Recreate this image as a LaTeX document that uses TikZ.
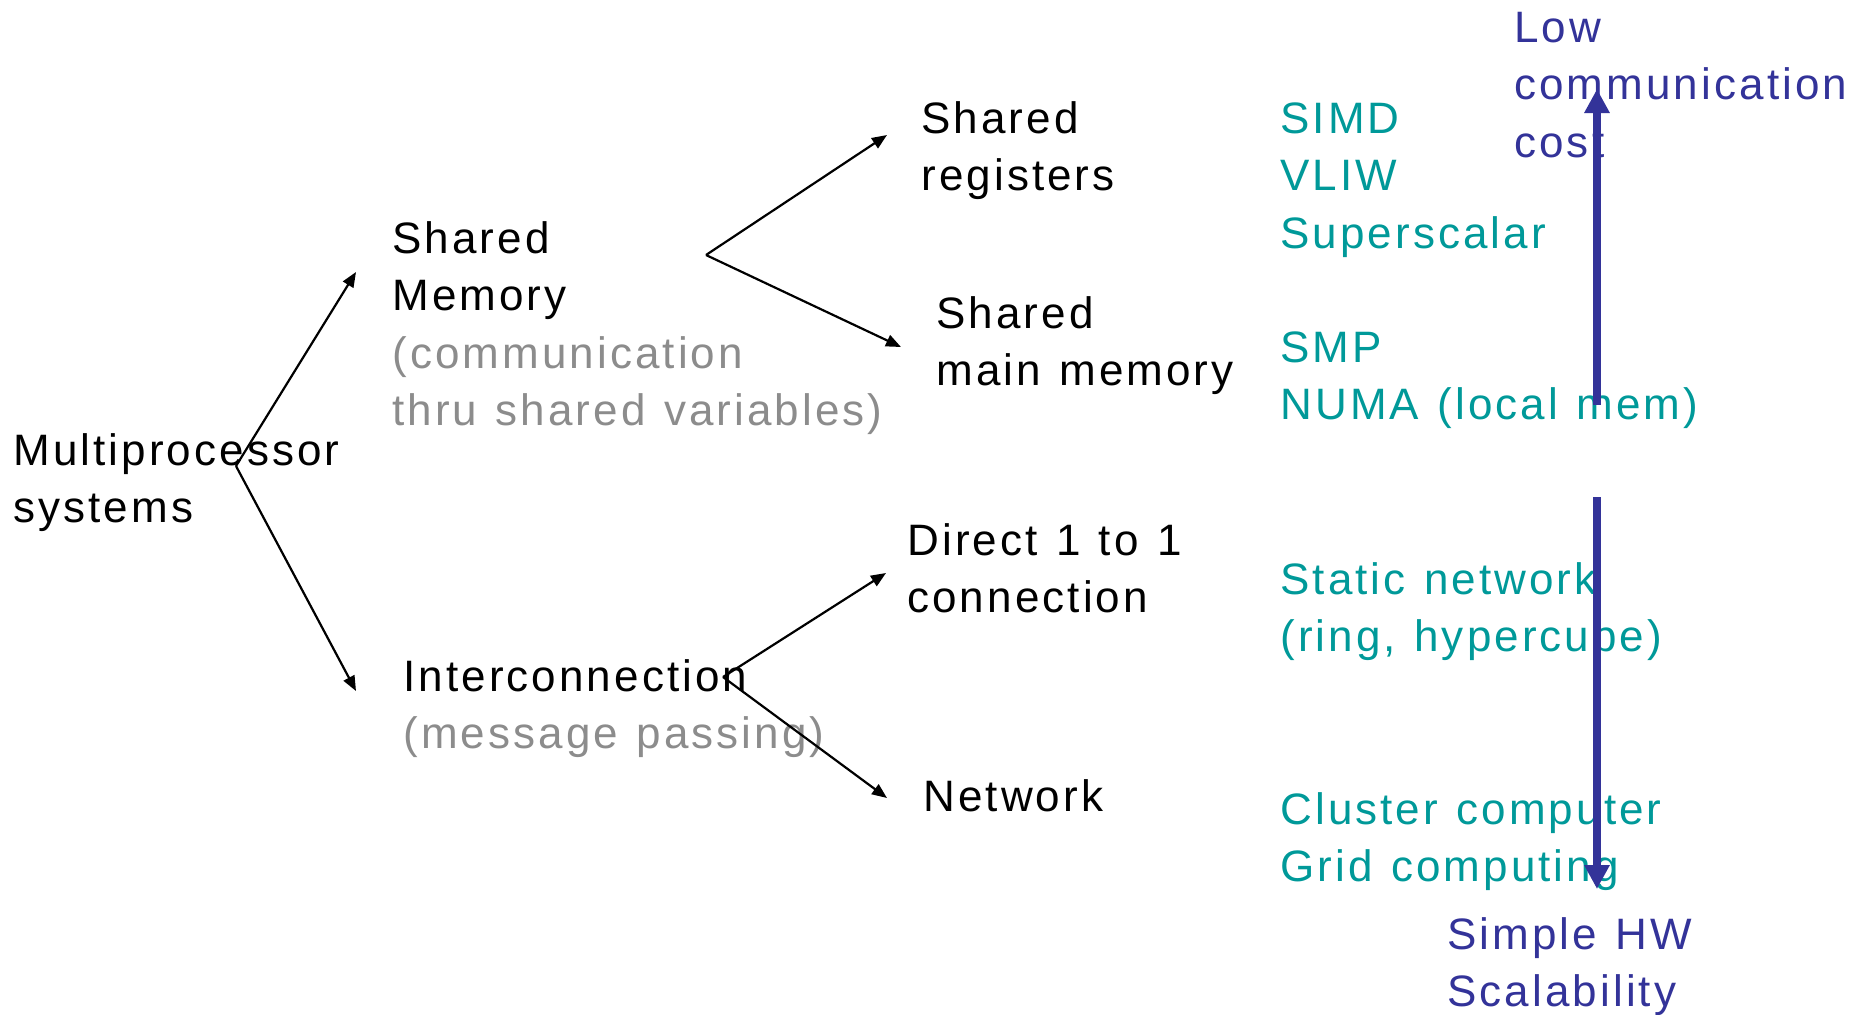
\documentclass[tikz,border=0pt]{standalone}
\usepackage{fontspec}
\setmainfont{Liberation Sans}[LetterSpace=7,WordSpace=1.2]
\usetikzlibrary{arrows.meta}
\definecolor{clsteal}{RGB}{0,153,153}
\definecolor{axisblue}{RGB}{51,51,153}
\definecolor{notegray}{RGB}{140,140,140}
\begin{document}
\begin{tikzpicture}[x=0.5pt,y=-0.5pt,
  lbl/.style={inner sep=0pt, anchor=base west, align=left,
    font=\fontsize{22}{28.75}\selectfont},
  example/.style={lbl, text=clsteal},
  trend/.style={lbl, text=axisblue},
  branch/.style={-{Triangle[length=7.5pt,width=6pt]}, line width=1.1pt, black},
  axis/.style={-{Triangle[length=12pt,width=12pt]}, line width=4.2pt, axisblue}]
\useasboundingbox (0,0) rectangle (1876,1014);

% classification tree (each node placed at the baseline of its last line)
\node[lbl] (mp) at (13,522.5) {Multiprocessor\\systems};
\node[lbl] (sm) at (392,425.5) {Shared\\Memory\\\textcolor{notegray}{(communication}\\\textcolor{notegray}{thru shared variables)}};
\node[lbl] (ic) at (403,748.5) {Interconnection\\\textcolor{notegray}{(message passing)}};
\node[lbl] (reg) at (921,190.5) {Shared\\registers};
\node[lbl] (mainmem) at (936,385.5) {Shared\\main memory};
\node[lbl] (direct) at (907,612.5) {Direct 1 to 1\\connection};
\node[lbl] (net) at (923,811) {Network};

% example systems
\node[example] (simd) at (1280,248) {SIMD\\VLIW\\Superscalar};
\node[example] (smp) at (1280,419.5) {SMP\\NUMA (local mem)};
\node[example] (static) at (1280,651.5) {Static network\\(ring, hypercube)};
\node[example] (cluster) at (1280,881.5) {Cluster computer\\Grid computing};

% trade-off axis labels
\node[trend] (low) at (1514,157) {Low\\communication\\cost};
\node[trend] (simple) at (1447,1006.5) {Simple HW\\Scalability};

% branch points and arrow ends
\coordinate (mpJ) at (236,466);
\coordinate (smTip) at (356,272);
\coordinate (icTip) at (356,691);
\coordinate (smJ) at (706,255);
\coordinate (regTip) at (887,135);
\coordinate (mainTip) at (901,347);
\coordinate (icJ) at (723,677);
\coordinate (dirTip) at (886,573);
\coordinate (netTip) at (887,798);
\coordinate (upFrom) at (1597,405);
\coordinate (upTo) at (1597,89);
\coordinate (downFrom) at (1597,497);
\coordinate (downTo) at (1597,889);

\draw[branch] (mpJ) -- (smTip);
\draw[branch] (mpJ) -- (icTip);
\draw[branch] (smJ) -- (regTip);
\draw[branch] (smJ) -- (mainTip);
\draw[branch] (icJ) -- (dirTip);
\draw[branch] (icJ) -- (netTip);

\draw[axis] (upFrom) -- (upTo);
\draw[axis] (downFrom) -- (downTo);
\end{tikzpicture}
\end{document}
